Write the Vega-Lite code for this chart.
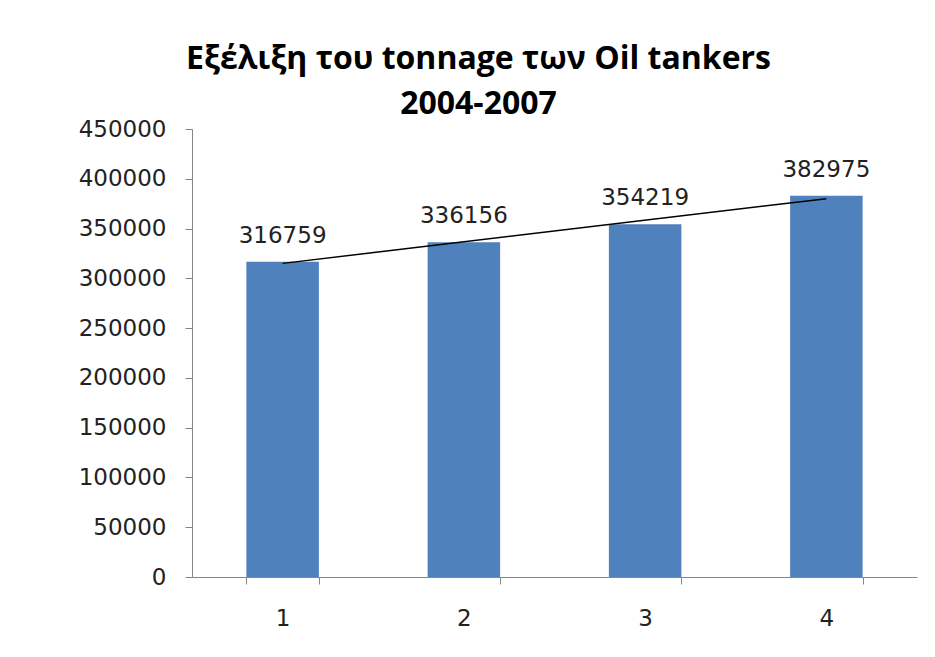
{
  "$schema": "https://vega.github.io/schema/vega-lite/v6.json",
  "autosize": {"type": "none"},
  "padding": {"left": 192, "top": 129, "right": 18, "bottom": 80},
  "width": 725,
  "height": 448,
  "background": "white",
  "title": {
    "text": ["Εξέλιξη του tonnage των Oil tankers", "2004-2007"],
    "font": "Open Sans",
    "fontSize": 32,
    "fontWeight": "bold",
    "lineHeight": 45,
    "color": "#000000",
    "anchor": "middle",
    "dx": -76,
    "offset": -3
  },
  "data": {
    "values": [
      {"x": 1, "value": 316759},
      {"x": 2, "value": 336156},
      {"x": 3, "value": 354219},
      {"x": 4, "value": 382975}
    ]
  },
  "config": {
    "view": {"stroke": null},
    "axis": {
      "grid": false,
      "domainColor": "#868686",
      "tickColor": "#868686",
      "labelFont": "DejaVu Sans",
      "labelFontSize": 23,
      "labelColor": "#222222",
      "tickSize": 7
    }
  },
  "layer": [
    {
      "mark": {"type": "bar", "color": "#4F81BD"},
      "encoding": {
        "x": {
          "field": "x",
          "type": "ordinal",
          "scale": {"paddingInner": 0.6, "paddingOuter": 0.3},
          "axis": {"title": null, "labelAngle": 0, "tickBand": "extent", "labelPadding": 23}
        },
        "y": {
          "field": "value",
          "type": "quantitative",
          "scale": {"domain": [0, 450000], "nice": false},
          "axis": {"title": null, "values": [0, 50000, 100000, 150000, 200000, 250000, 300000, 350000, 400000, 450000], "format": "d", "labelPadding": 19}
        }
      }
    },
    {
      "mark": {"type": "text", "baseline": "middle", "dy": -26, "font": "DejaVu Sans", "fontSize": 23, "color": "#222222"},
      "encoding": {
        "x": {"field": "x", "type": "ordinal"},
        "y": {"field": "value", "type": "quantitative"},
        "text": {"field": "value", "type": "quantitative", "format": "d"}
      }
    },
    {
      "transform": [{"regression": "value", "on": "x"}],
      "mark": {"type": "line", "color": "#000000", "strokeWidth": 1.5},
      "encoding": {
        "x": {"field": "x", "type": "ordinal"},
        "y": {"field": "value", "type": "quantitative"}
      }
    }
  ]
}
